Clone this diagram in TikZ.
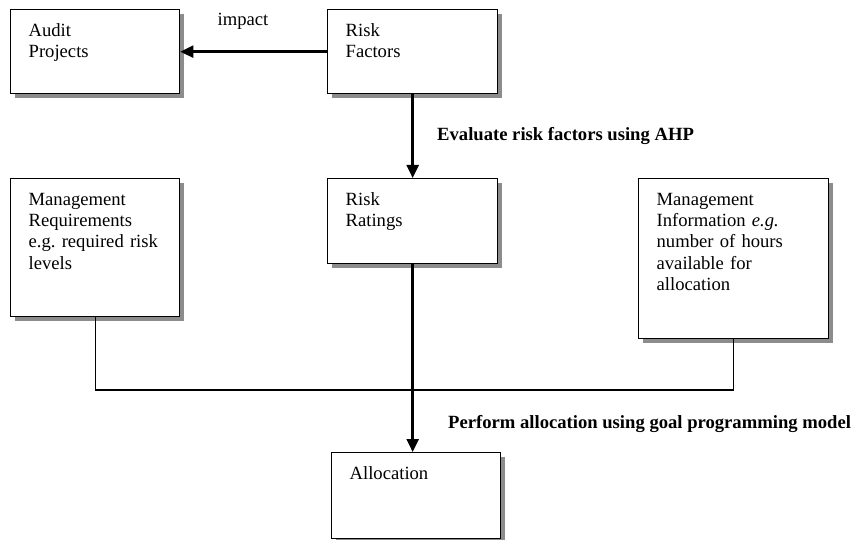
\documentclass[tikz,border=0pt]{standalone}
\usepackage{fontspec}
\setmainfont{Liberation Serif}
\usetikzlibrary{arrows.meta,shadows}

\tikzset{
  box/.style={draw,line width=1.3bp,fill=white,
    drop shadow={shadow xshift=4bp,shadow yshift=-4bp,fill=black!45,opacity=1},
    anchor=north west,align=left,inner xsep=18bp,inner ysep=14bp,
    text height=12.5bp,font=\fontsize{18.7}{21.4}\selectfont},
  flow/.style={line width=2.4bp,-{Triangle[length=13bp,width=12bp]}},
  feed/.style={line width=1.2bp},
  lbl/.style={font=\fontsize{18.7}{21}\selectfont,inner sep=0pt},
  steplbl/.style={font=\fontsize{18.7}{21}\selectfont\bfseries,anchor=west,inner sep=0pt}
}

\begin{document}
\begin{tikzpicture}[x=1bp,y=-1bp]
\useasboundingbox (0,0) rectangle (856,540);

% Boxes
\node[box,text width=133bp,text depth=43.5bp] (audit) at (10,9)
{Audit\\Projects};

\node[box,text width=134bp,text depth=43.5bp] (risk) at (327,9)
{Risk\\Factors};

\node[box,text width=133bp,text depth=97.5bp] (req) at (10,178)
{Management\\Requirements\\e.g.\ required risk\\levels};

\node[box,text width=134bp,text depth=44.5bp] (ratings) at (327,178)
{Risk\\Ratings};

\node[box,text width=154bp,text depth=119.5bp] (info) at (638,178)
{Management\\Information \textit{e.g.}\\number of hours\\available for\\allocation};

\node[box,text width=133bp,text depth=45.5bp] (alloc) at (331,452)
{Allocation};

% Labels
\node[lbl] (impactlbl) at (243,21)
{impact};

\node[steplbl] (ahplbl) at (437,136)
{Evaluate risk factors using AHP};

\node[steplbl] (gplbl) at (448,424)
{Perform allocation using goal programming model};

% Connectors
\draw[flow]
(risk.west)
--
(audit.east);

\draw[flow]
(risk.south)
--
(ratings.north);

\coordinate (bus) at (412,390);

\draw[feed]
(req.south)
|-
(bus)
-|
(info.south);

\draw[flow]
(ratings.south)
--
(ratings.south |- alloc.north);

\end{tikzpicture}
\end{document}
